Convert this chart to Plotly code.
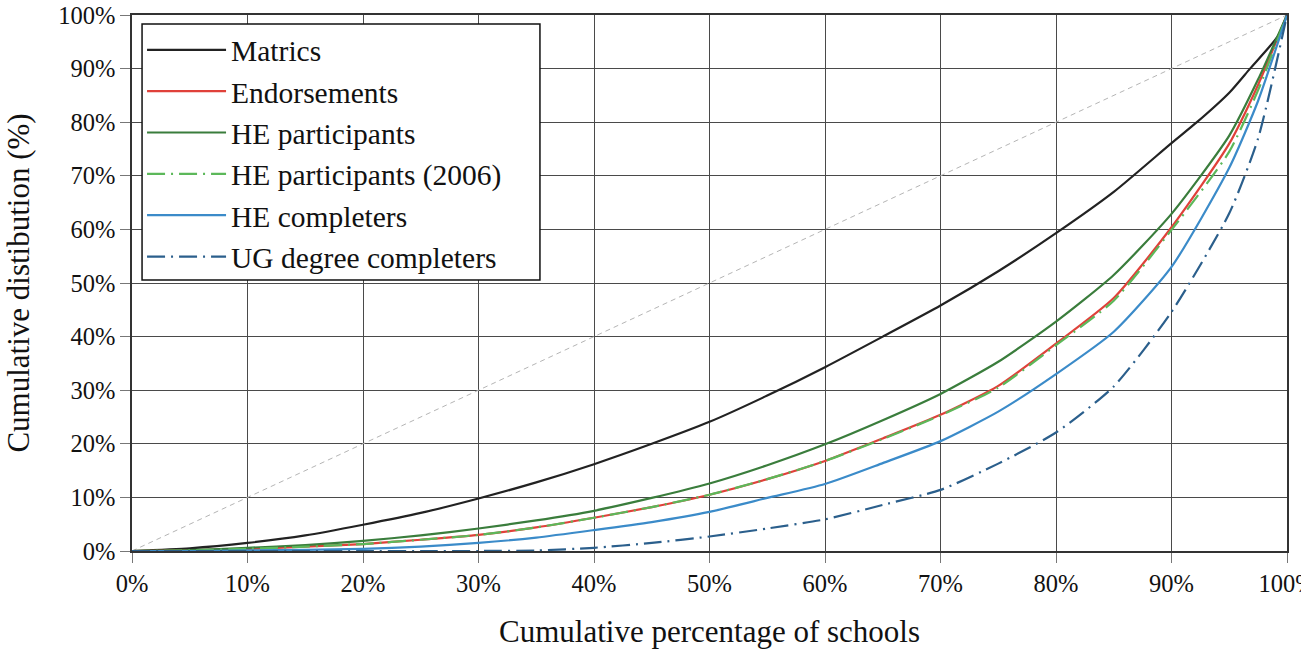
import plotly.graph_objects as go

# Cumulative percentage of schools (x) for each series
x_main = [0, 5, 10, 15, 20, 25, 30, 35, 40, 45, 50, 55, 60, 65, 70, 75, 80, 85, 90, 92.2, 95, 96.8, 99.2, 100]
matrics = [0, 0.5, 1.5, 2.9, 4.9, 7.1, 9.8, 12.8, 16.2, 20.0, 24.1, 29.0, 34.3, 40.0, 45.8, 52.2, 59.3, 67.0, 76.1, 80.0, 85.5, 90.0, 96.0, 100]

x_std = [0, 5, 10, 15, 20, 25, 30, 35, 40, 45, 50, 55, 60, 65, 70, 75, 80, 85, 90, 95, 97.5, 100]
endorsements = [0, 0.1, 0.4, 0.8, 1.3, 2.1, 3.0, 4.4, 6.2, 8.2, 10.5, 13.4, 16.8, 21.0, 25.4, 30.8, 38.7, 47.2, 60.4, 76.0, 87.0, 100]
he_participants = [0, 0.15, 0.6, 1.1, 1.9, 2.9, 4.2, 5.7, 7.5, 9.9, 12.6, 16.0, 19.9, 24.4, 29.3, 35.3, 42.8, 51.5, 62.9, 77.5, 88.0, 100]
he_participants_2006 = [0, 0.1, 0.4, 0.8, 1.3, 2.1, 3.0, 4.4, 6.2, 8.2, 10.5, 13.4, 16.8, 20.9, 25.3, 30.5, 38.4, 46.7, 59.9, 74.5, 86.0, 100]
he_completers = [0, 0.0, 0.1, 0.2, 0.4, 0.8, 1.5, 2.5, 3.9, 5.4, 7.3, 9.9, 12.5, 16.4, 20.5, 26.0, 33.0, 40.9, 53.0, 71.5, 84.0, 100]
ug_completers = [0, 0, 0, 0, 0, 0, 0, 0.1, 0.6, 1.5, 2.7, 4.2, 5.9, 8.6, 11.4, 16.3, 22.1, 30.7, 44.6, 63.0, 77.0, 100]

equality_x = [0, 100]
equality_y = [0, 100]

x_ticks = list(range(0, 101, 10))
y_ticks = list(range(0, 101, 10))
x_ticktext = [f"{v}%" for v in x_ticks]
y_ticktext = [f"{v}%" for v in y_ticks]

FONT = "Liberation Serif"

fig = go.Figure()

fig.add_trace(go.Scatter(x=equality_x, y=equality_y, mode="lines",
                         line=dict(color="#b5b5b5", width=1, dash="5px,4px"),
                         showlegend=False, hoverinfo="skip"))

series = [
    ("Matrics", x_main, matrics, "#222222", "solid"),
    ("Endorsements", x_std, endorsements, "#e0413a", "solid"),
    ("HE participants", x_std, he_participants, "#3a7d3c", "solid"),
    ("HE participants (2006)", x_std, he_participants_2006, "#5cb85a", "18px,6px,2px,6px"),
    ("HE completers", x_std, he_completers, "#3b8bc9", "solid"),
    ("UG degree completers", x_std, ug_completers, "#2b5f8c", "18px,6px,2px,6px"),
]
for name, xs, ys, col, dash in series:
    fig.add_trace(go.Scatter(x=xs, y=ys, mode="lines", name=name,
                             line=dict(color=col, width=2.2, dash=dash, shape="spline", smoothing=0.6)))

fig.update_xaxes(
    range=[0, 100], showgrid=True, gridcolor="#4a4a4a", gridwidth=1,
    showline=True, linecolor="#333333", linewidth=1.5, mirror=True,
    ticks="outside", ticklen=10, tickcolor="#777777", tickwidth=1,
    zeroline=False, automargin=False, ticklabeloverflow="allow",
    tickmode="array", tickvals=x_ticks, ticktext=x_ticktext,
    tickfont=dict(family=FONT, size=24.5, color="#111111"),
    title=dict(text="Cumulative percentage of schools",
               font=dict(family=FONT, size=31, color="#111111"), standoff=25),
)
fig.update_yaxes(
    range=[0, 100], showgrid=True, gridcolor="#4a4a4a", gridwidth=1,
    showline=True, linecolor="#333333", linewidth=1.5, mirror=True,
    ticks="outside", ticklen=10, tickcolor="#777777", tickwidth=1,
    zeroline=False, automargin=False, ticklabeloverflow="allow",
    tickmode="array", tickvals=y_ticks, ticktext=y_ticktext,
    tickfont=dict(family=FONT, size=24.5, color="#111111"),
    title=dict(text="Cumulative distibution (%)",
               font=dict(family=FONT, size=31, color="#111111"), standoff=19),
)

# legend frame (white box with black border) drawn as a shape behind the legend
fig.add_shape(type="rect", xref="paper", yref="paper",
              x0=0.0087, x1=0.3532, y0=0.5056, y1=0.9832,
              fillcolor="white", line=dict(color="#111111", width=1.5), layer="above")

fig.update_layout(
    width=1301, height=649,
    margin=dict(l=132, r=14, t=15, b=98, autoexpand=False),
    paper_bgcolor="white", plot_bgcolor="white",
    font=dict(family=FONT, color="#111111"),
    legend=dict(x=0.0087, y=0.983, xanchor="left", yanchor="top",
                bgcolor="rgba(0,0,0,0)", borderwidth=0,
                font=dict(family=FONT, size=29.5, color="#111111"),
                tracegroupgap=0, itemwidth=79),
    showlegend=True,
)

fig.write_html("out.html",
               config={"displayModeBar": False},
               post_script="document.body.style.margin='0';document.body.style.overflow='hidden';")
